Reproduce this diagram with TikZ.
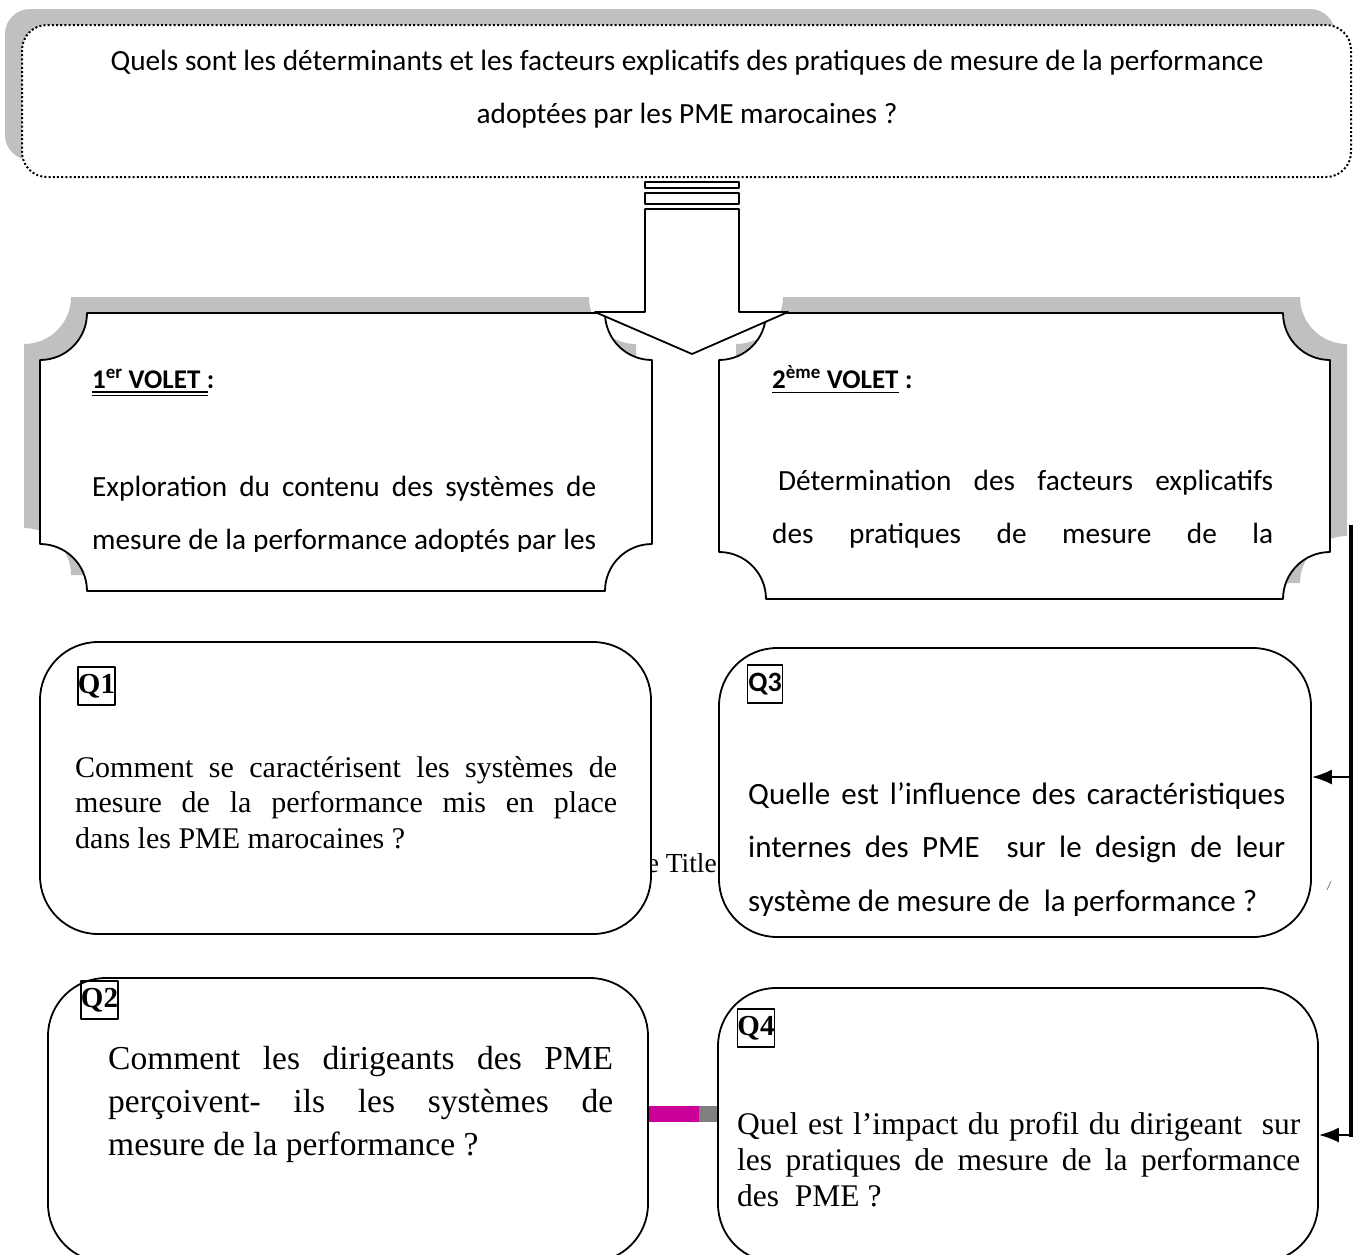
\documentclass[tikz,border=0pt]{standalone}
\usepackage{fontspec}
\setmainfont{Liberation Serif}
\newfontfamily\carl{Carlito}
\usetikzlibrary{arrows.meta}
\definecolor{shadowgray}{HTML}{C0C0C0}
\definecolor{barpink}{HTML}{CC0099}
\definecolor{bargray}{HTML}{808080}
\tikzset{
  plaque/.style n args={4}{insert path={(#1+47,#2) -- (#3-47,#2) .. controls (#3-47,#2+26) and (#3-26,#2+47) .. (#3,#2+47) -- (#3,#4-47) .. controls (#3-26,#4-47) and (#3-47,#4-26) .. (#3-47,#4) -- (#1+47,#4) .. controls (#1+47,#4-26) and (#1+26,#4-47) .. (#1,#4-47) -- (#1,#2+47) .. controls (#1+26,#2+47) and (#1+47,#2+26) .. (#1+47,#2) -- cycle}},
  boxline/.style={draw=black, line width=1.8pt, fill=white},
  carltext/.style={font=\carl\fontsize{29.3}{53}\selectfont, inner sep=0pt},
  headtext/.style={font=\carl\bfseries\fontsize{27}{32}\selectfont, inner sep=0pt},
  uline/.style={line width=1.5pt},
  qbox/.style={draw=black, line width=1.8pt, fill=white, rounded corners=58pt, inner sep=0pt},
  qlabtimes/.style={draw=black, line width=1.5pt, minimum width=37pt, minimum height=38pt, inner sep=0pt, font=\bfseries\fontsize{29}{29}\selectfont},
  qlabcarl/.style={draw=black, line width=1.5pt, minimum width=35pt, minimum height=38pt, inner sep=0pt, font=\carl\bfseries\fontsize{28}{28}\selectfont},
  conn/.style={line width=2pt, -{Latex[length=20pt,width=15pt]}},
}
\begin{document}
\begin{tikzpicture}[x=1pt,y=-1pt,line join=round]
\useasboundingbox (0,0) rectangle (1354,1254);
\fill[white] (0,0) rectangle (1354,1254);
\clip (0,0) rectangle (1354,1254);

% question box
\fill[shadowgray, rounded corners=25pt] (5,9) rectangle (1335,160);
\draw[fill=white, rounded corners=25pt, line width=2pt, dash pattern=on 2pt off 2.2pt] (22,25) rectangle (1351,177);
\node[carltext, align=center, anchor=base] (question) at (687,123)
  {Quels sont les déterminants et les facteurs explicatifs des pratiques de mesure de la performance\\adoptées par les PME marocaines ?};

% volet boxes
\fill[shadowgray] [plaque={24}{297}{636}{575}];
\draw[boxline] [plaque={40}{313}{652}{591}];
\fill[shadowgray] [plaque={736}{297}{1347}{583}];
\draw[boxline] [plaque={719}{313}{1330}{599}];

% block arrow
\draw[boxline] (645,182) rectangle (739,188);
\draw[boxline] (645,193) rectangle (739,204);
\draw[boxline] (645,209) -- (645,312) -- (595,312) -- (692,354) -- (788,312) -- (739,312) -- (739,209) -- cycle;

\node[headtext, anchor=base west] (v1u) at (92,388) {1\textsuperscript{er} VOLET};
\node[headtext, anchor=base west] (v1c) at (v1u.base east) {\ :};
\draw[uline] (v1u.base west) ++(0,4) -- ++(116,0);
\draw[uline] (v1u.base west) ++(0,7.5) -- ++(116,0);
\node[headtext, anchor=base west] (v2u) at (772,388) {2\textsuperscript{ème} VOLET};
\node[headtext, anchor=base west] (v2c) at (v2u.base east) {\ :};
\draw[uline] (v2u.base west) ++(0,4.5) -- (v2u.base east |- 0,392.5);

\begin{scope}
\clip (40,300) rectangle (652,551);
\node[carltext, anchor=base west, text width=504pt, align=justify] (v1text) at (92,496)
  {\noindent Exploration du contenu des systèmes de\linebreak mesure de la performance adoptés par les\linebreak};
\end{scope}
\node[carltext, anchor=base west, text width=501pt, align=justify] (v2text) at (772,490)
  {\noindent\hspace*{6pt}Détermination des facteurs explicatifs\linebreak des pratiques de mesure de la\linebreak};

% hidden caption remnant
\node[font=\fontsize{27.5}{30}\selectfont, anchor=base east, inner sep=0pt] (ghost) at (717,872) {e Title};

% colour bar
\fill[barpink] (648,1106) rectangle (699,1122);
\fill[bargray] (699,1106) rectangle (718,1122);

% question boxes
\node[qbox, minimum width=611pt, minimum height=292pt] (q1) at (345.5,788) {};
\node[qbox, minimum width=592pt, minimum height=289pt] (q3) at (1015,792.5) {};
\node[qbox, minimum width=600pt, minimum height=284pt] (q2) at (348,1120) {};
\node[qbox, minimum width=600pt, minimum height=274pt] (q4) at (1018,1125) {};

\node[qlabtimes] (q1l) at (96.5,686) {Q1};
\node[qlabcarl] (q3l) at (765,684) {Q3};
\node[qlabtimes] (q2l) at (99.5,1000) {Q2};
\node[qlabtimes] (q4l) at (756,1028) {Q4};

\node[font=\fontsize{30}{35.5}\selectfont, inner sep=0pt, anchor=base west, text width=542pt, align=justify] (q1text) at (75,777)
  {\noindent Comment se caractérisent les systèmes de\linebreak mesure de la performance mis en place\linebreak dans les PME marocaines ?};
\node[font=\carl\fontsize{31}{53.5}\selectfont, inner sep=0pt, anchor=base west, text width=537pt, align=justify] (q3text) at (748,804)
  {\noindent Quelle est l’influence des caractéristiques\linebreak internes des PME\ \ sur le design de leur\linebreak système de mesure de\ \ la performance ?};
\node[font=\fontsize{33.5}{43}\selectfont, inner sep=0pt, anchor=base west, text width=505pt, align=justify] (q2text) at (108,1069)
  {\noindent Comment les dirigeants des PME\linebreak perçoivent- ils les systèmes de\linebreak mesure de la performance ?};
\node[font=\fontsize{31.5}{36}\selectfont, inner sep=0pt, anchor=base west, text width=563pt, align=justify] (q4text) at (737,1134)
  {\noindent Quel est l’impact du profil du dirigeant\ \ sur\linebreak les pratiques de mesure de la performance\linebreak des\ \ PME ?};

% connector on the right
\coordinate (jtop) at (1351,525);
\coordinate (j3) at (1351,777);
\coordinate (j4) at (1351,1135);
\coordinate (jbot) at (1351,1137);
\draw[line width=4pt] (jtop) -- (jbot);
\draw[conn] (j3) -- (j3 -| q3.east);
\draw[conn] (j4) -- (j4 -| q4.east);
\draw[gray, line width=0.8pt] (1327,890) -- (1331,881);
\end{tikzpicture}
\end{document}
